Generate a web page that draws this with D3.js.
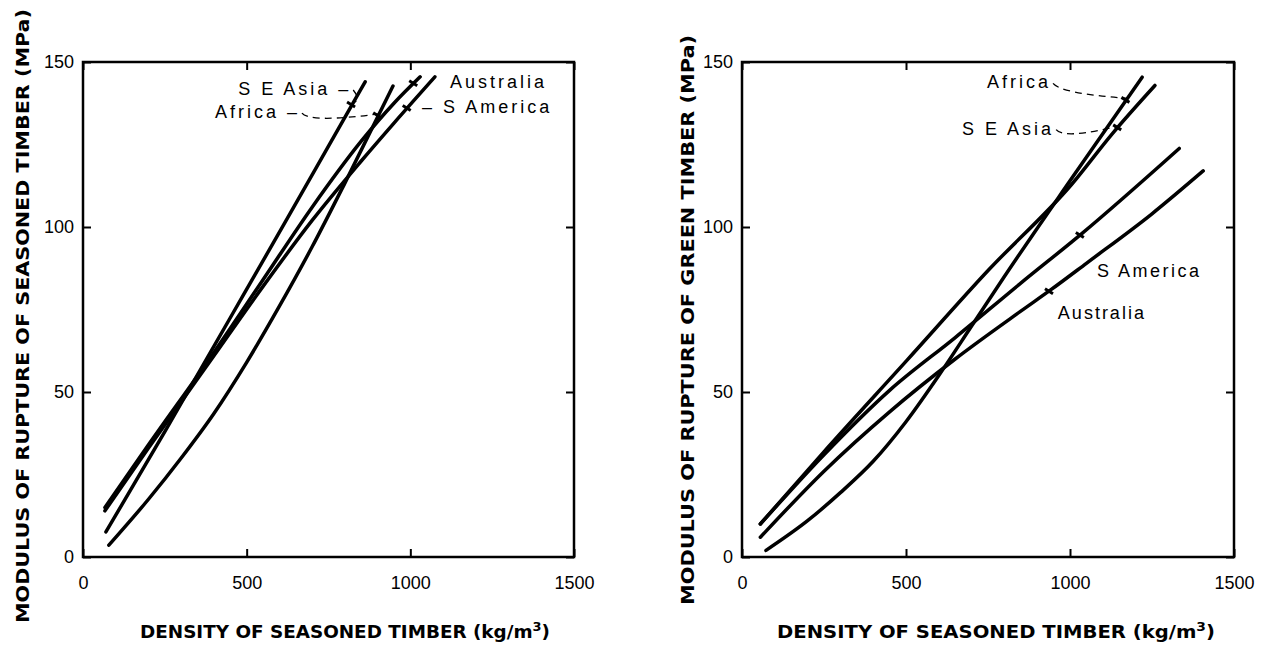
<!DOCTYPE html>
<html>
<head>
<meta charset="utf-8">
<script src="https://cdn.jsdelivr.net/npm/d3@7"></script>
<style>
  body { margin: 0; background: #fff; }
  svg { display: block; }
</style>
</head>
<body>
<svg id="chart" width="1264" height="650"></svg>
<script>
// tick values shared by both panels
const densityTicks = [0, 500, 1000, 1500];
const strengthTicks = [0, 50, 100, 150];

// seasoned timber, [density kg/m3, MOR MPa]
const seasonedSEAsia = [[70, 7.6], [250, 38], [450, 72.5], [615, 101], [750, 124.5], [862, 144]];
const seasonedAfrica = [[79, 3.6], [200, 17.5], [300, 30], [400, 43.5], [500, 59], [600, 76], [700, 94], [800, 113.3], [947, 142.7]];
const seasonedAustralia = [[67, 15], [200, 34], [400, 62], [550, 84], [700, 106], [850, 126], [950, 137.5], [1030, 145.5]];
const seasonedSAmerica = [[67, 14], [200, 33], [400, 61], [550, 82], [700, 102], [850, 120], [950, 131.5], [1075, 145.5]];

// green timber
const greenAfrica = [[73, 2], [200, 11], [300, 19.5], [400, 29], [500, 41], [600, 55], [700, 70], [800, 85], [1000, 114], [1220, 145.4]];
const greenSEAsia = [[56, 10], [251, 32], [502, 59.5], [753, 87.1], [1004, 112.8], [1130, 128.4], [1259, 142.9]];
const greenSAmerica = [[56, 10], [250, 31], [450, 50.5], [650, 66.5], [850, 83], [1036, 98], [1333, 123.8]];
const greenAustralia = [[56, 6], [250, 26], [450, 44], [650, 60], [850, 74.5], [942, 81], [1050, 89], [1250, 104], [1406, 117]];

const svg = d3.select("#chart");
const font = "'Liberation Sans', Arial, sans-serif";
const boldFont = "'DejaVu Sans', sans-serif";

function drawPanel(p) {
  const x = d3.scaleLinear().domain([0, 1500]).range([p.left, p.right]);
  const y = d3.scaleLinear().domain([0, 150]).range([p.bottom, p.top]);
  const g = svg.append("g");

  const style = sel => {
    sel.select(".domain").remove();
    sel.selectAll(".tick line").attr("stroke", "#000").attr("stroke-width", 2);
    sel.selectAll("text").attr("font-family", font).attr("font-size", 18).attr("fill", "#000");
  };

  g.append("g").attr("transform", `translate(0,${p.bottom})`)
    .call(d3.axisBottom(x).tickValues(densityTicks).tickFormat(d3.format("d"))
      .tickSizeInner(-8).tickSizeOuter(0).tickPadding(19))
    .call(style);
  g.append("g").attr("transform", `translate(0,${p.top})`)
    .call(d3.axisTop(x).tickValues(densityTicks).tickSizeInner(-8).tickSizeOuter(0).tickFormat(""))
    .call(style);
  g.append("g").attr("transform", `translate(${p.left},0)`)
    .call(d3.axisLeft(y).tickValues(strengthTicks).tickFormat(d3.format("d"))
      .tickSizeInner(-8).tickSizeOuter(0).tickPadding(9))
    .call(style);
  g.append("g").attr("transform", `translate(${p.right},0)`)
    .call(d3.axisRight(y).tickValues(strengthTicks).tickSizeInner(-8).tickSizeOuter(0).tickFormat(""))
    .call(style);

  g.append("rect")
    .attr("x", p.left).attr("y", p.top)
    .attr("width", p.right - p.left).attr("height", p.bottom - p.top)
    .attr("fill", "none").attr("stroke", "#000").attr("stroke-width", 2.5);

  const line = d3.line().x(d => x(d[0])).y(d => y(d[1])).curve(d3.curveMonotoneX);
  g.append("g").selectAll("path")
    .data(p.series)
    .join("path")
    .attr("d", d => line(d.values))
    .attr("fill", "none").attr("stroke", "#000")
    .attr("stroke-width", 3.5).attr("stroke-linecap", "round");

  // labels, a tick on the curve and (sometimes) a dashed leader
  p.notes.forEach(n => {
    const s = p.series.find(d => d.name === n.series);
    const tx = n.at;
    const ty = d3.scaleLinear().domain(s.values.map(v => v[0])).range(s.values.map(v => v[1]))(tx);
    const t = g.append("text")
      .attr("x", x(n.pos[0])).attr("y", y(n.pos[1]))
      .attr("font-family", font).attr("font-size", 18)
      .attr("letter-spacing", n.spacing || 3).attr("fill", "#000")
      .text(n.text);
    if (n.leader) {
      const bb = t.node().getBBox();
      const sx = bb.x + bb.width + 2;
      const sy = bb.y + bb.height * 0.55;
      g.append("path")
        .attr("d", `M${sx},${sy} Q${sx + 8},${sy + 10} ${x(tx)},${y(ty)}`)
        .attr("fill", "none").attr("stroke", "#000").attr("stroke-width", 1.3)
        .attr("stroke-dasharray", "7,5");
    }
    g.append("line")
      .attr("x1", x(tx) - 6).attr("y1", y(ty) - 1)
      .attr("x2", x(tx) + 2).attr("y2", y(ty) + 4)
      .attr("stroke", "#000").attr("stroke-width", 3);
  });

  const title = svg.append("text")
    .attr("x", p.titleX).attr("y", 638)
    .attr("text-anchor", "middle")
    .attr("font-family", boldFont).attr("font-weight", "bold")
    .attr("font-size", 17).attr("textLength", p.titleWidth).attr("lengthAdjust", "spacingAndGlyphs");
  title.append("tspan").text("DENSITY OF SEASONED TIMBER (kg/m");
  title.append("tspan").attr("dy", -7).attr("font-size", 12).text("3");
  title.append("tspan").attr("dy", 7).text(")");

  svg.append("text")
    .attr("transform", `translate(${p.yTitleX},${p.yTitleY}) rotate(-90)`)
    .attr("text-anchor", "middle")
    .attr("font-family", boldFont).attr("font-weight", "bold")
    .attr("font-size", 17).attr("textLength", p.yTitleLen).attr("lengthAdjust", "spacingAndGlyphs")
    .text(p.yTitle);
}

drawPanel({
  left: 83, right: 574, top: 62, bottom: 557,
  titleX: 345, titleWidth: 410,
  yTitle: "MODULUS OF RUPTURE OF SEASONED TIMBER (MPa)", yTitleX: 29, yTitleY: 316, yTitleLen: 614,
  series: [
    {name: "SE Asia", values: seasonedSEAsia},
    {name: "Africa", values: seasonedAfrica},
    {name: "Australia", values: seasonedAustralia},
    {name: "S America", values: seasonedSAmerica}
  ],
  notes: [
    {series: "SE Asia", text: "S E Asia –", pos: [474, 140], at: 825, leader: true},
    {series: "Africa", text: "Africa –", pos: [403, 133], at: 905, leader: true},
    {series: "Australia", text: "Australia", pos: [1121, 142], at: 1015},
    {series: "S America", text: "– S America", pos: [1036, 134.5], at: 995}
  ]
});

drawPanel({
  left: 742, right: 1234, top: 62, bottom: 557,
  titleX: 996, titleWidth: 438,
  yTitle: "MODULUS OF RUPTURE OF GREEN TIMBER (MPa)", yTitleX: 694, yTitleY: 320, yTitleLen: 570,
  series: [
    {name: "Africa", values: greenAfrica},
    {name: "SE Asia", values: greenSEAsia},
    {name: "S America", values: greenSAmerica},
    {name: "Australia", values: greenAustralia}
  ],
  notes: [
    {series: "Africa", text: "Africa", pos: [747, 142], at: 1175, leader: true},
    {series: "SE Asia", text: "S E Asia", pos: [671, 128], at: 1150, leader: true},
    {series: "S America", text: "S America", pos: [1082, 85], at: 1036, spacing: 2.5},
    {series: "Australia", text: "Australia", pos: [963, 72], at: 942, spacing: 2}
  ]
});
</script>
</body>
</html>
